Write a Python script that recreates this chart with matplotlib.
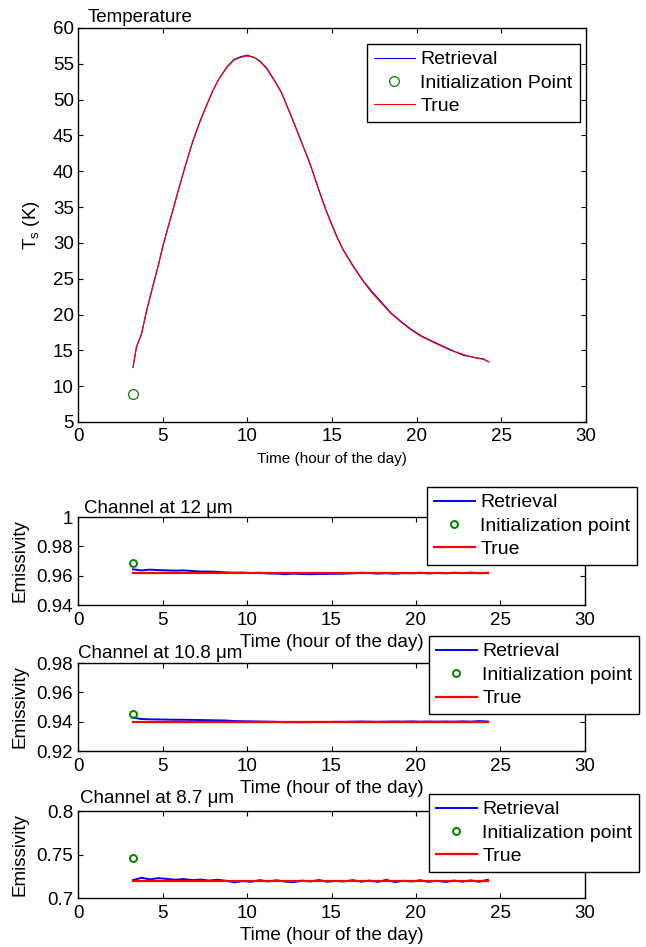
import numpy as np
import matplotlib
matplotlib.use("Agg")
import matplotlib.pyplot as plt

plt.rcParams["font.family"] = ["Liberation Sans", "DejaVu Sans"]
plt.rcParams["mathtext.fontset"] = "custom"
plt.rcParams["mathtext.rm"] = "Liberation Sans"

# --- surface temperature ---
temp_hours = [3.25, 3.45, 3.75, 4.05, 4.45, 4.75, 5.0, 5.3, 5.6, 5.9, 6.2, 6.5, 6.8,
              7.2, 7.6, 7.95, 8.3, 8.8, 9.2, 9.6, 10.0, 10.4, 10.75, 11.15, 11.55,
              12.0, 12.35, 12.7, 13.1, 13.4, 13.7, 14.0, 14.3, 14.6, 14.9, 15.25,
              15.65, 16.25, 16.85, 17.3, 17.75, 18.5, 19.1, 19.7, 20.3, 21.0, 22.0,
              22.75, 23.35, 23.95, 24.25]
temp_true = [12.7, 15.5, 17.3, 20.6, 24.3, 27.0, 29.5, 32.1, 34.6, 37.2, 39.7, 42.1,
             44.4, 47.0, 49.3, 51.2, 52.8, 54.5, 55.5, 55.9, 56.1, 55.9, 55.3, 54.3,
             52.8, 51.0, 49.0, 47.0, 44.6, 42.8, 41.0, 38.9, 36.8, 34.8, 33.0, 31.0,
             29.0, 26.7, 24.6, 23.2, 22.0, 20.1, 18.9, 17.8, 16.9, 16.1, 15.0, 14.45,
             14.0, 13.75, 13.4]
temp_retrieval = [12.6, 15.4, 17.3, 20.5, 24.2, 26.9, 29.4, 32.0, 34.5, 37.1, 39.6,
                  42.0, 44.3, 46.9, 49.2, 51.2, 52.8, 54.6, 55.6, 56.0, 56.2, 55.9,
                  55.4, 54.4, 52.9, 51.1, 49.1, 47.1, 44.7, 42.9, 41.1, 39.0, 36.9,
                  34.9, 33.1, 31.1, 29.1, 26.8, 24.7, 23.4, 22.2, 20.2, 19.0, 17.9,
                  17.0, 16.2, 15.1, 14.3, 14.05, 13.8, 13.4]
temp_init_hour = 3.25
temp_init = 8.95

# --- emissivity channels ---
emis_hours = [3.25, 3.75, 4.25, 4.75, 5.25, 5.75, 6.25, 6.75, 7.25, 7.75, 8.25, 8.75,
              9.25, 9.75, 10.25, 10.75, 11.25, 11.75, 12.25, 12.75, 13.25, 13.75, 14.25,
              14.75, 15.25, 15.75, 16.25, 16.75, 17.25, 17.75, 18.25, 18.75, 19.25,
              19.75, 20.25, 20.75, 21.25, 21.75, 22.25, 22.75, 23.25, 23.75, 24.25]

ret_12 = [0.9643, 0.9636, 0.9641, 0.9638, 0.9636, 0.9634, 0.9636, 0.9632, 0.9628,
          0.9628, 0.9626, 0.9622, 0.9620, 0.9621, 0.9618, 0.9620, 0.9615, 0.9614,
          0.9610, 0.9614, 0.9611, 0.9610, 0.9612, 0.9612, 0.9613, 0.9614, 0.9616,
          0.9620, 0.9618, 0.9614, 0.9617, 0.9613, 0.9618, 0.9616, 0.9620, 0.9615,
          0.9619, 0.9616, 0.9620, 0.9617, 0.9621, 0.9616, 0.9620]
ret_108 = [0.9428, 0.9418, 0.9416, 0.9415, 0.9414, 0.9413, 0.9413, 0.9412, 0.9411,
           0.9410, 0.9409, 0.9408, 0.9404, 0.9403, 0.9402, 0.9401, 0.9400, 0.9399,
           0.9396, 0.9397, 0.9396, 0.9397, 0.9398, 0.9398, 0.9399, 0.9399, 0.9400,
           0.9401, 0.9400, 0.9399, 0.9400, 0.9401, 0.9400, 0.9402, 0.9400, 0.9401,
           0.9400, 0.9401, 0.9400, 0.9402, 0.9400, 0.9404, 0.9401]
ret_87 = [0.7205, 0.7232, 0.7215, 0.7228, 0.7220, 0.7210, 0.7218, 0.7205, 0.7212,
          0.7200, 0.7210, 0.7198, 0.7180, 0.7195, 0.7186, 0.7205, 0.7190, 0.7204,
          0.7188, 0.7182, 0.7200, 0.7190, 0.7206, 0.7188, 0.7196, 0.7190, 0.7205,
          0.7188, 0.7200, 0.7185, 0.7208, 0.7182, 0.7198, 0.7190, 0.7204, 0.7186,
          0.7198, 0.7184, 0.7200, 0.7188, 0.7202, 0.7186, 0.7210]

channel_titles = ["Channel at 12 \u03bcm", "Channel at 10.8 \u03bcm", "Channel at 8.7 \u03bcm"]
channel_retrievals = [ret_12, ret_108, ret_87]
channel_true = [0.962, 0.940, 0.719]
channel_init = [0.9688, 0.9452, 0.746]
channel_ylims = [(0.94, 1.0), (0.92, 0.98), (0.7, 0.8)]
channel_yticks = [[0.94, 0.96, 0.98, 1.0], [0.92, 0.94, 0.96, 0.98], [0.7, 0.75, 0.8]]
channel_yticklabels = [["0.94", "0.96", "0.98", "1"], ["0.92", "0.94", "0.96", "0.98"],
                       ["0.7", "0.75", "0.8"]]

W, H = 646, 947
BLUE, RED, GREEN = "#0000ff", "#ff0000", "#008000"
FS = 13.5


def box(l, t, r, b):
    return [l / W, 1 - b / H, (r - l) / W, (b - t) / H]


def matlab_axes(ax, xpad, ypad):
    ax.tick_params(direction="in", top=True, right=True, length=3.6, width=0.8,
                   labelsize=FS)
    ax.tick_params(axis="x", pad=xpad)
    ax.tick_params(axis="y", pad=ypad)
    for s in ax.spines.values():
        s.set_linewidth(1.0)
    ax.set_xlim(0, 30)
    ax.set_xticks([0, 5, 10, 15, 20, 25, 30])


def boxed_legend(ax, x, y):
    leg = ax.legend(loc="upper left", bbox_to_anchor=(x / W, 1 - y / H),
                    bbox_transform=fig.transFigure, fontsize=14, fancybox=False,
                    framealpha=1, edgecolor="black", borderaxespad=0,
                    handlelength=2.1, handletextpad=0.3, labelspacing=0.3,
                    borderpad=0.35)
    leg.get_frame().set_linewidth(1.0)


fig = plt.figure(figsize=(W / 100, H / 100), dpi=100)

# top panel: temperature
ax = fig.add_axes(box(78, 28, 586, 422))
ax.plot(temp_hours, temp_retrieval, color=BLUE, lw=0.8, label="Retrieval")
ax.plot([temp_init_hour], [temp_init], "o", mfc="none", mec=GREEN, ms=7, mew=0.9,
        label="Initialization Point")
ax.plot(temp_hours, temp_true, color=RED, lw=0.8, label="True")
matlab_axes(ax, 4.5, 3)
ax.set_ylim(5, 60)
ax.set_yticks(range(5, 61, 5))
ax.set_xlabel("Time (hour of the day)", fontsize=11)
ax.xaxis.set_label_coords(0.5, -0.075)
ax.set_ylabel(r"T$_\mathregular{s}$ (K)", fontsize=FS)
ax.yaxis.set_label_coords(-0.07, 0.5)
ax.text(0.018, 1.005, "Temperature", transform=ax.transAxes, fontsize=FS,
        va="bottom", ha="left")
boxed_legend(ax, 367, 44)

# emissivity panels
boxes = [box(78, 517, 585, 605), box(78, 663, 585, 751), box(78, 811, 585, 898)]
title_y = [1.045, 1.057, 1.09]
title_x = [0.012, 0.0, 0.004]
legend_anchor = [(427, 487), (429, 636), (429, 794)]

for i in range(3):
    ax = fig.add_axes(boxes[i])
    ax.plot(emis_hours, channel_retrievals[i], color=BLUE, lw=1.4, label="Retrieval")
    ax.plot([emis_hours[0]], [channel_init[i]], "o", mfc="none", mec=GREEN, ms=5,
            mew=1.4, label="Initialization point")
    ax.plot([emis_hours[0], emis_hours[-1]], [channel_true[i], channel_true[i]],
            color=RED, lw=1.6, label="True")
    matlab_axes(ax, 5, 3.5)
    ax.set_ylim(*channel_ylims[i])
    ax.set_yticks(channel_yticks[i])
    ax.set_yticklabels(channel_yticklabels[i])
    ax.set_xlabel("Time (hour of the day)", fontsize=FS)
    ax.xaxis.set_label_coords(0.5, -0.33)
    ax.set_ylabel("Emissivity", fontsize=FS)
    ax.yaxis.set_label_coords(-0.097, 0.5)
    ax.text(title_x[i], title_y[i], channel_titles[i], transform=ax.transAxes,
            fontsize=FS, va="baseline", ha="left")
    boxed_legend(ax, *legend_anchor[i])

fig.savefig("out.png", dpi=100)
